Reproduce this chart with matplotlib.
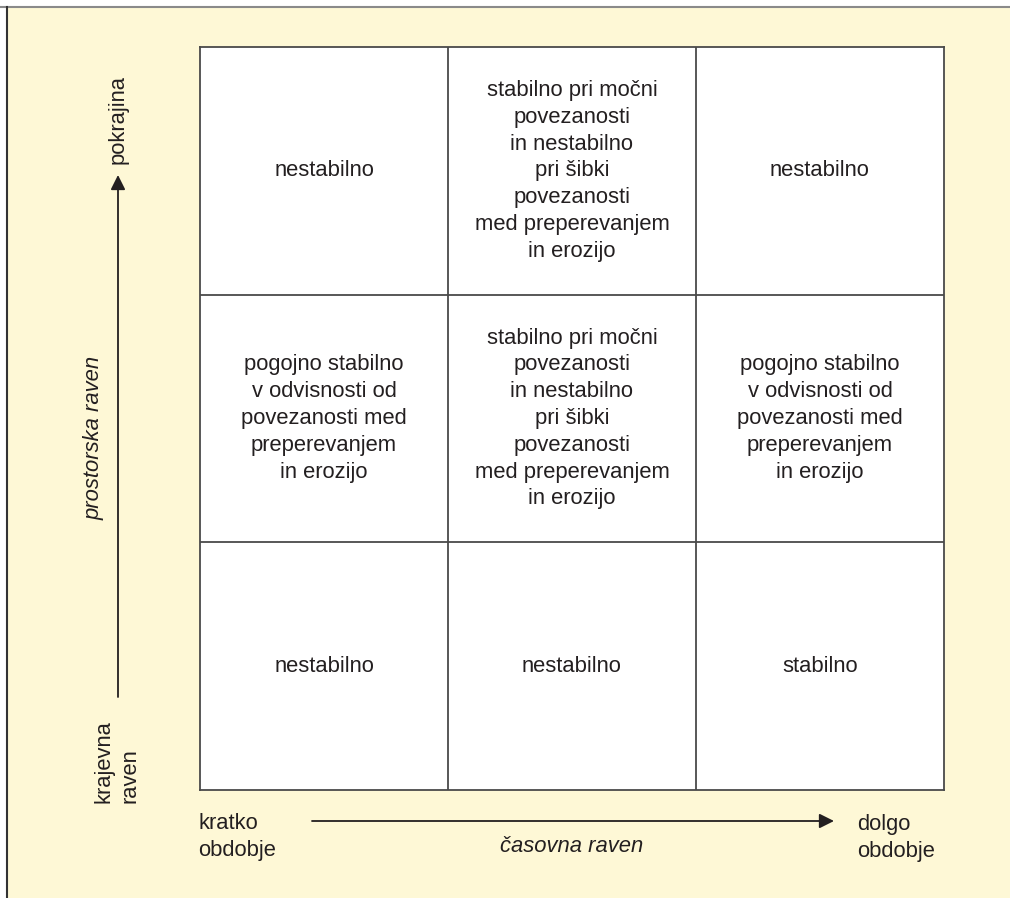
import matplotlib
matplotlib.use('Agg')
import matplotlib.pyplot as plt
from matplotlib.patches import Rectangle

plt.rcParams['font.family'] = ['Liberation Sans', 'DejaVu Sans']

# cell texts, rows from top to bottom
mixed = ("stabilno pri močni\npovezanosti\nin nestabilno\npri šibki\n"
         "povezanosti\nmed preperevanjem\nin erozijo")
cond = ("pogojno stabilno\nv odvisnosti od\npovezanosti med\n"
        "preperevanjem\nin erozijo")
row_top = ["nestabilno", mixed, "nestabilno"]
row_mid = [cond, mixed, cond]
row_bot = ["nestabilno", "nestabilno", "stabilno"]
rows = [row_top, row_mid, row_bot]

x_label = "časovna raven"
y_label = "prostorska raven"
x_ends = ["kratko\nobdobje", "dolgo\nobdobje"]
y_ends = ["krajevna\nraven", "pokrajina"]

W, H = 1010, 898
bg = '#fef8d6'
ink = '#231f20'
line_col = '#4a4a4a'
fs = 15.8
ls = 1.36

fig = plt.figure(figsize=(W / 100, H / 100), dpi=100, facecolor='white')

# yellow panel with thin frame on top and left
panel = fig.add_axes([0, 0, 1, 1])
panel.set_xlim(0, W)
panel.set_ylim(H, 0)
panel.axis('off')
panel.add_patch(Rectangle((7, 7), W, H, facecolor=bg, edgecolor='none'))
panel.plot([0, W], [7, 7], color='#8a8a8a', lw=1.5)
panel.plot([6.5, 6.5], [7, H], color='#333333', lw=1.5)

# the 3x3 grid
ax = fig.add_axes([200 / W, 1 - 790 / H, 744 / W, 743 / H])
ax.set_xlim(0, 3)
ax.set_ylim(3, 0)
ax.set_facecolor('white')
ax.set_xticks([])
ax.set_yticks([])
for s in ax.spines.values():
    s.set_color(line_col)
    s.set_linewidth(1.3)
for k in [1, 2]:
    ax.axhline(k, color=line_col, lw=1.3)
    ax.axvline(k, color=line_col, lw=1.3)

for r, row in enumerate(rows):
    for c, txt in enumerate(row):
        ax.text(c + 0.5, r + 0.5, txt, ha='center', va='center',
                fontsize=fs, color=ink, linespacing=ls)

# axis arrows
arrow = dict(arrowstyle='-|>', color=ink, lw=1.3,
             mutation_scale=22, shrinkA=0, shrinkB=0)
panel.annotate('', xy=(118, 175), xytext=(118, 697), arrowprops=arrow)
panel.annotate('', xy=(834, 821), xytext=(312, 821), arrowprops=arrow)

panel.text(572, 847, x_label, ha='center', va='center', fontsize=fs,
           style='italic', color=ink)
panel.text(94, 438, y_label, ha='center', va='center', fontsize=fs,
           style='italic', color=ink, rotation=90)

panel.text(198, 837, x_ends[0], ha='left', va='center', fontsize=fs,
           color=ink, linespacing=ls)
panel.text(857, 838, x_ends[1], ha='left', va='center', fontsize=fs,
           color=ink, linespacing=ls)
panel.text(117, 803, y_ends[0], ha='center', va='bottom', fontsize=fs,
           color=ink, rotation=90, multialignment='left', linespacing=ls)
panel.text(118, 120, y_ends[1], ha='center', va='center', fontsize=fs,
           color=ink, rotation=90)

fig.savefig('out.png', dpi=100, facecolor='white')
